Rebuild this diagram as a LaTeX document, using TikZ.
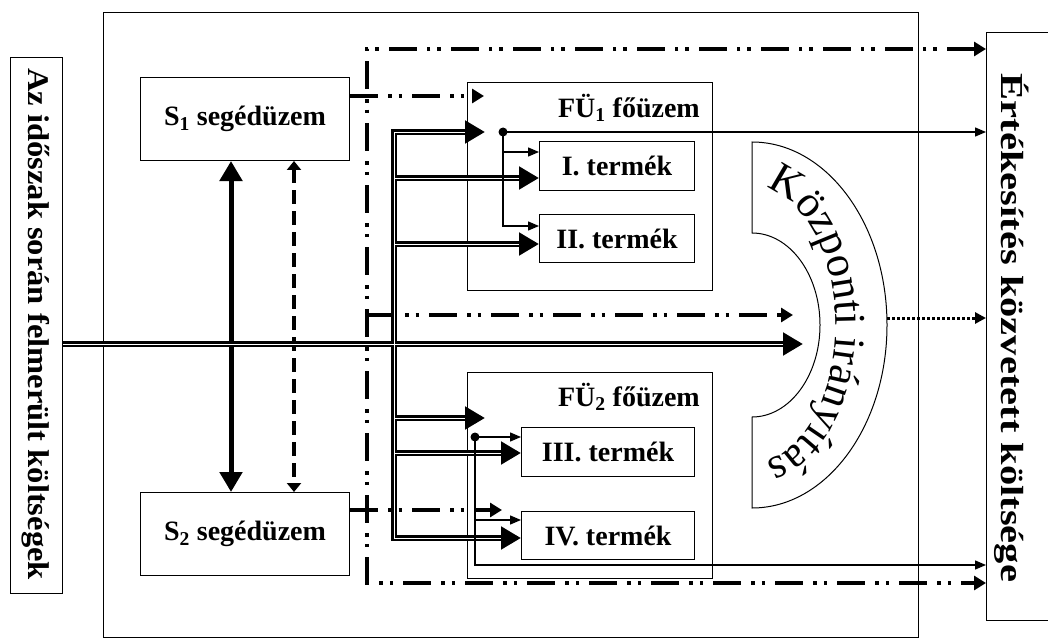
\documentclass[tikz,border=0pt]{standalone}
\usepackage{fontspec}
\setmainfont{Liberation Serif}
\usetikzlibrary{arrows.meta,decorations.text,calc}
\begin{document}
\begin{tikzpicture}[x=1pt,y=-1pt,
  box/.style={draw, line width=1pt, inner sep=0pt, font=\bfseries\fontsize{28}{32}\selectfont},
  lab/.style={inner sep=0pt, font=\bfseries\fontsize{28}{32}\selectfont},
  bigtip/.style={-{Triangle[length=20pt,width=22pt]}},
  dbl/.style={line width=6.5pt},
  core/.style={draw=white, line width=0.8pt},
  vbig/.style={line width=5pt, {Triangle[length=20pt,width=22pt]}-{Triangle[length=20pt,width=22pt]}},
  vdash/.style={line width=3.5pt, dash pattern=on 14pt off 7pt, {Triangle[length=9pt,width=14pt]}-{Triangle[length=9pt,width=14pt]}},
  thinarr/.style={line width=1.3pt, -{Triangle[length=11pt,width=9pt]}},
  dd/.style={line width=3.5pt, dash pattern=on 28pt off 10pt on 3.5pt off 7pt on 3.5pt off 10pt},
  ddtip/.style={-{Triangle[length=12pt,width=14pt]}},
  dotl/.style={line width=3pt, dash pattern=on 3pt off 2pt, -{Triangle[length=11pt,width=11pt]}}
]
\useasboundingbox (0,0) rectangle (1048,639);

% frames
\node[box, minimum width=52pt, minimum height=536pt, anchor=north west] (L) at (10,57) {};
\node[lab, font=\bfseries\fontsize{30}{36}\selectfont, rotate=-90, xscale=1.085] (Lt) at (36,324) {Az időszak során felmerült költségek};
\node[box, minimum width=815pt, minimum height=625pt, anchor=north west] (big) at (103,12) {};
\node[box, minimum width=90pt, minimum height=588pt, anchor=north west] (R) at (986,32) {};
\node[lab, font=\bfseries\fontsize{32}{38}\selectfont, rotate=-90, xscale=1.265] (Rt) at (1012,328) {Értékesítés közvetett költsége};

% boxes
\node[box, minimum width=209pt, minimum height=83pt, anchor=north west] (S1) at (140,77) {S\textsubscript{1} segédüzem};
\node[box, minimum width=209pt, minimum height=83pt, anchor=north west] (S2) at (140,492) {S\textsubscript{2} segédüzem};
\node[box, minimum width=245pt, minimum height=208pt, anchor=north west] (fu1) at (467,82) {};
\node[lab, anchor=east] (fu1l) at (700,108) {FÜ\textsubscript{1} főüzem};
\node[box, minimum width=155pt, minimum height=49pt, anchor=north west] (t1) at (539,141) {I. termék\hspace{10pt}};
\node[box, minimum width=155pt, minimum height=48pt, anchor=north west] (t2) at (539,214) {II. termék\hspace{8pt}};
\node[box, minimum width=245pt, minimum height=206pt, anchor=north west] (fu2) at (467,372) {};
\node[lab, anchor=east] (fu2l) at (700,397) {FÜ\textsubscript{2} főüzem};
\node[box, minimum width=173pt, minimum height=49pt, anchor=north west] (t3) at (521,427) {III. termék\hspace{10pt}};
\node[box, minimum width=173pt, minimum height=48pt, anchor=north west] (t4) at (521,511) {IV. termék\hspace{10pt}};

% central ring
\draw[line width=1pt, fill=white] (752,142) arc[start angle=-90,end angle=90,x radius=135,y radius=183] -- (752,417) arc[start angle=90,end angle=-90,x radius=68,y radius=92] -- cycle;
\path[decorate, decoration={text along path, text align=center, text={|\fontsize{44}{52}\selectfont|Központi irányítás}}] (752,187) arc[start angle=-90,end angle=90,x radius=84,y radius=138];
\coordinate (ro) at (887,318);

% coordinates
\coordinate (xa) at (231,0);
\coordinate (xb) at (294,0);
\coordinate (my) at (0,344);
\coordinate (mend) at (803,344);
\coordinate (mcore) at (783,344);
\coordinate (bt) at (394,132);
\coordinate (bb) at (394,538);
\coordinate (a1) at (485,132);
\coordinate (a1c) at (465,132);
\coordinate (b1) at (394,178);
\coordinate (b2) at (394,244);
\coordinate (b3) at (394,418);
\coordinate (a3) at (485,418);
\coordinate (a3c) at (465,418);
\coordinate (b4) at (394,453);
\coordinate (d1) at (503,132);
\coordinate (d1a) at (503,152);
\coordinate (d1b) at (503,226);
\coordinate (d2) at (475,437);
\coordinate (d2a) at (475,520);
\coordinate (d2b) at (475,565);
\coordinate (ddt) at (367,49);
\coordinate (ddb) at (367,583);
\coordinate (ddm) at (367,315);
\coordinate (ddme) at (793,315);
\coordinate (y1) at (0,96);
\coordinate (s1e) at (484,96);
\coordinate (y2) at (0,510);
\coordinate (s2e) at (502,510);

% dash-dot lines
\draw[dd, ddtip] (S1.east |- y1) -- (s1e);
\draw[dd, ddtip] (S2.east |- y2) -- (s2e);
\draw[dd, {Triangle[length=12pt,width=14pt]}-{Triangle[length=12pt,width=14pt]}] (ddt -| R.west) -- (ddt) -- (ddb) -- (ddb -| R.west);
\draw[dd, ddtip] (ddm) -- (ddme);
\draw[dotl] (ro) -- (ro -| R.west);

% S1 - S2
\draw[vbig] (S1.south -| xa) -- (S2.north -| xa);
\draw[vdash] (S1.south -| xb) -- (S2.north -| xb);

% main flow
\draw[dbl, bigtip] (L.east |- my) -- (mend);
\draw[dbl, {Triangle[length=20pt,width=22pt]}-{Triangle[length=20pt,width=22pt]}] (a1) -- (bt) -- (bb) -- (t4.west |- bb);
\draw[dbl, bigtip] (b1) -- (b1 -| t1.west);
\draw[dbl, bigtip] (b2) -- (b2 -| t2.west);
\draw[dbl, bigtip] (b3) -- (a3);
\draw[dbl, bigtip] (b4) -- (b4 -| t3.west);
% white cores of the double lines
\draw[core] (L.east |- my) -- (mcore);
\draw[core] (a1c) -- (bt) -- (bb) -- ([xshift=-20pt]t4.west |- bb);
\draw[core] (b1) -- ([xshift=-20pt]b1 -| t1.west);
\draw[core] (b2) -- ([xshift=-20pt]b2 -| t2.west);
\draw[core] (b3) -- (a3c);
\draw[core] (b4) -- ([xshift=-20pt]b4 -| t3.west);

% thin product lines
\fill (d1) circle[radius=4.5pt];
\draw[thinarr] (d1) -- (d1 -| R.west);
\draw[thinarr] (d1a) -- (d1a -| t1.west);
\draw[thinarr] (d1) -- (d1b) -- (d1b -| t2.west);
\fill (d2) circle[radius=4.5pt];
\draw[thinarr] (d2) -- (d2 -| t3.west);
\draw[thinarr] (d2a) -- (d2a -| t4.west);
\draw[thinarr] (d2) -- (d2b) -- (d2b -| R.west);
\end{tikzpicture}
\end{document}
